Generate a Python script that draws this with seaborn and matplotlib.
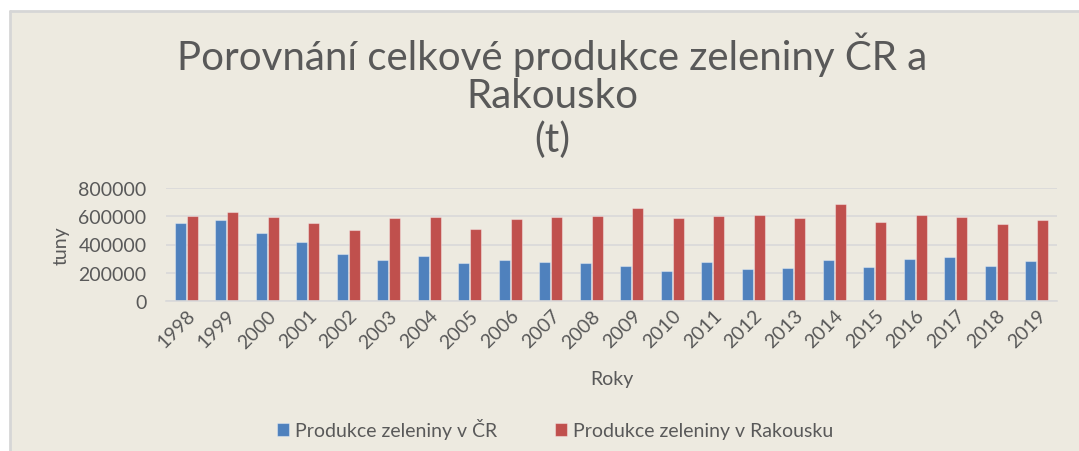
import matplotlib
matplotlib.use("Agg")
import matplotlib.pyplot as plt
import seaborn as sns
import pandas as pd
from matplotlib.patches import Rectangle

years = [str(y) for y in range(1998, 2020)]
cr_values = [551000, 573000, 480000, 417000, 334000, 293000, 320000, 272000, 293000, 277000, 270000,
             250000, 212000, 276000, 228000, 234000, 290000, 241000, 298000, 312000, 248000, 283000]
at_values = [599000, 627000, 592000, 551000, 502000, 585000, 592000, 509000, 577000, 598000, 605000,
             655000, 590000, 605000, 612000, 590000, 690000, 557000, 612000, 598000, 543000, 576000]
series_names = ["Produkce zeleniny v ČR", "Produkce zeleniny v Rakousku"]
yticks = [0, 200000, 400000, 600000, 800000]

df = pd.DataFrame({
    "Rok": years * 2,
    "Hodnota": cr_values + at_values,
    "Serie": [series_names[0]] * len(years) + [series_names[1]] * len(years),
})

sns.set_theme(style="white")
plt.rcParams["font.family"] = ["Lato", "DejaVu Sans"]

BG = "#EDEAE0"
TXT = "#595959"
GRID = "#D9D9D9"

W, H = 1079, 452
fig = plt.figure(figsize=(W / 100, H / 100), dpi=100, facecolor="white")
fig.patches.append(Rectangle((10 / W, 0), 1 - 10 / W, 1 - 12 / H, transform=fig.transFigure,
                             facecolor=BG, edgecolor="none", zorder=-10))
fig.lines.append(plt.Line2D([10 / W, 1], [1 - 12 / H, 1 - 12 / H], transform=fig.transFigure,
                            color="#D6D6D6", lw=2, zorder=-9))
fig.lines.append(plt.Line2D([10 / W, 10 / W], [0, 1 - 12 / H], transform=fig.transFigure,
                            color="#D6D6D6", lw=2, zorder=-9))

ax = fig.add_axes([166 / W, 1 - 302 / H, (1057 - 166) / W, (302 - 189) / H])
ax.patch.set_alpha(0)

sns.barplot(data=df, x="Rok", y="Hodnota", hue="Serie", order=years, hue_order=series_names,
            palette=["#4F81BD", "#C0504D"], saturation=1, width=0.58, gap=0.06, ax=ax,
            edgecolor="#FFFFFF60", linewidth=0.8, legend=True)

ax.set_ylim(0, 800000)
ax.set_yticks(yticks)
ax.set_yticklabels([str(v) for v in yticks])
ax.yaxis.grid(True, color=GRID, lw=1.2)
ax.set_axisbelow(True)
for s in ["top", "right", "left"]:
    ax.spines[s].set_visible(False)
ax.spines["bottom"].set_color(GRID)
ax.spines["bottom"].set_linewidth(1.2)
ax.tick_params(axis="both", length=0, colors=TXT, labelsize=14)
ax.tick_params(axis="y", pad=14)
ax.tick_params(axis="x", pad=4)
plt.setp(ax.get_xticklabels(), rotation=45, ha="right", rotation_mode="anchor")
ax.set_xlabel("Roky", color=TXT, fontsize=14, labelpad=14)
ax.set_ylabel("tuny", color=TXT, fontsize=14, labelpad=6)

handles, labels = ax.get_legend_handles_labels()
ax.get_legend().remove()
fig.legend(handles, labels, loc="center", bbox_to_anchor=(555 / W, 1 - 430 / H), ncol=2,
           frameon=False, fontsize=14, labelcolor=TXT, handlelength=0.6, handleheight=0.6,
           handletextpad=0.3, columnspacing=3.0)

fig.text(552 / W, 1 - 55 / H, "Porovnání celkové produkce zeleniny ČR a", ha="center", va="center",
         fontsize=29, color=TXT)
fig.text(552 / W, 1 - 96 / H, "Rakousko", ha="center", va="center", fontsize=29, color=TXT)
fig.text(552 / W, 1 - 140 / H, "(t)", ha="center", va="center", fontsize=29, color=TXT)

fig.savefig("out.png", dpi=100, facecolor="white")
